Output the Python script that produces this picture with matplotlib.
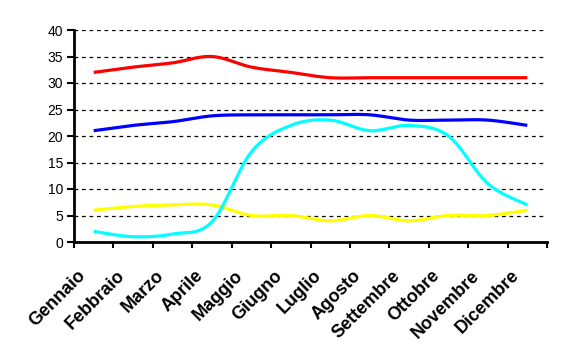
import numpy as np
import matplotlib.pyplot as plt
from matplotlib.transforms import ScaledTranslation

plt.rcParams['font.family'] = ['Liberation Sans', 'DejaVu Sans']

mesi = ['Gennaio', 'Febbraio', 'Marzo', 'Aprile', 'Maggio', 'Giugno',
        'Luglio', 'Agosto', 'Settembre', 'Ottobre', 'Novembre', 'Dicembre']
rosso = [32, 33, 33.8, 35, 33, 32, 31, 31, 31, 31, 31, 31]
blu = [21, 22, 22.7, 23.8, 24, 24, 24, 24, 23, 23, 23, 22]
ciano = [2, 1, 1.5, 3.8, 17, 22, 23, 21, 22, 20, 11, 7]
giallo = [6, 6.7, 7, 7, 5, 5, 4, 5, 4, 5, 5, 6]


# curva smussata tipo Excel (bezier con punti di controllo catmull-rom)
def smussa(x, y, n=30):
    x = np.asarray(x, float)
    y = np.asarray(y, float)
    xs, ys = [], []
    for i in range(len(x) - 1):
        i0 = max(i - 1, 0)
        i3 = min(i + 2, len(x) - 1)
        c1x = x[i] + (x[i + 1] - x[i0]) / 6
        c1y = y[i] + (y[i + 1] - y[i0]) / 6
        c2x = x[i + 1] - (x[i3] - x[i]) / 6
        c2y = y[i + 1] - (y[i3] - y[i]) / 6
        t = np.linspace(0, 1, n)
        a, b, c, d = (1 - t) ** 3, 3 * t * (1 - t) ** 2, 3 * t ** 2 * (1 - t), t ** 3
        xs.append(a * x[i] + b * c1x + c * c2x + d * x[i + 1])
        ys.append(a * y[i] + b * c1y + c * c2y + d * y[i + 1])
    return np.concatenate(xs), np.concatenate(ys)


fig = plt.figure(figsize=(5.63, 3.62), dpi=100)
ax = fig.add_axes([74 / 563, 120 / 362, 473 / 563, 212 / 362])

pos = np.arange(len(mesi)) + 0.5
for serie, col in [(giallo, '#ffff00'), (ciano, '#00ffff'), (blu, '#0000ff'), (rosso, '#ff0000')]:
    sx, sy = smussa(pos, serie)
    ax.plot(sx, sy, color=col, lw=2.3, solid_capstyle='butt', zorder=3)

ax.set_xlim(0, 12)
ax.set_ylim(0, 40)
ax.set_yticks(range(0, 41, 5))
for v in range(5, 41, 5):
    ax.axhline(v, color='black', lw=0.9, ls=(0, (3, 3)), zorder=1)

ax.set_xticks(range(0, 13))
ax.set_xticklabels([])
ax.set_xticks(pos, minor=True)
ax.set_xticklabels(mesi, minor=True, rotation=45, ha='right', rotation_mode='anchor',
                   fontsize=13, fontweight='bold')
ax.tick_params(axis='x', which='minor', length=0, pad=18)
ax.tick_params(axis='x', which='major', length=4, width=1.5, direction='out')
ax.tick_params(axis='y', length=5, width=1.5, direction='out', labelsize=10, pad=3)

# sposta le etichette un po' a sinistra
sposta = ScaledTranslation(-0.17, 0, fig.dpi_scale_trans)
for lab in ax.get_xticklabels(minor=True):
    lab.set_transform(lab.get_transform() + sposta)

for s in ['top', 'right']:
    ax.spines[s].set_visible(False)
ax.spines['left'].set_linewidth(2)
ax.spines['bottom'].set_linewidth(2)

plt.savefig('out.png', dpi=100)
